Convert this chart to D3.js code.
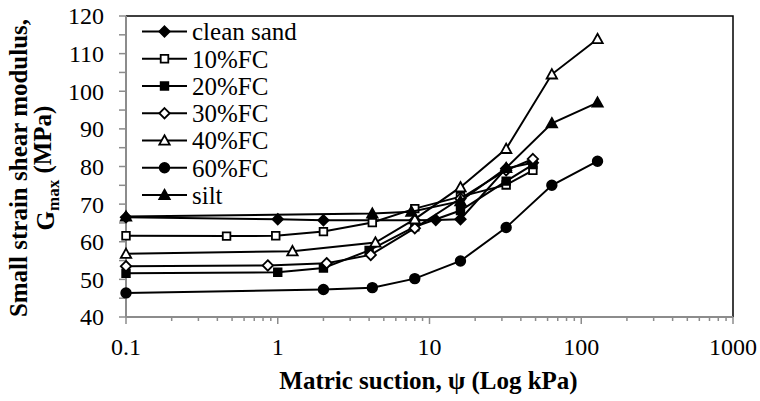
<!DOCTYPE html>
<html><head><meta charset="utf-8">
<script src="https://cdn.jsdelivr.net/npm/d3@7"></script>
<style>body{margin:0;background:#fff}svg{display:block}</style>
</head><body>
<svg id="c" width="760" height="401"></svg>
<script>
const seriesNames = ["clean sand","10%FC","20%FC","30%FC","40%FC","60%FC","silt"];
const cleanSand = [[0.1,66.5],[1,66.0],[2,65.7],[8,65.7],[11,65.8],[16,66.0],[32,79.5],[48,81.0]];
const fc10 = [[0.1,61.6],[0.46,61.5],[0.97,61.6],[2,62.7],[4.2,65.1],[8,68.8],[16,72.0],[32,75.1],[48,79.0]];
const fc20 = [[0.1,51.6],[1,51.9],[2,53.0],[4,57.7],[8,64.0],[16,68.3],[32,76.1],[48,80.5]];
const fc30 = [[0.1,53.5],[0.86,53.7],[2.1,54.3],[4.1,56.5],[8,63.6],[16,71.5],[32,79.0],[48,82.0]];
const fc40 = [[0.1,56.8],[1.25,57.5],[4.4,59.8],[8,66.0],[16,74.5],[32,84.7],[64,104.5],[128,113.9]];
const fc60 = [[0.1,46.4],[2,47.3],[4.2,47.8],[8,50.2],[16,54.9],[32,63.8],[64,75.0],[128,81.4]];
const silt = [[0.1,66.7],[4.2,67.5],[7.6,68.0],[16,70.8],[32,79.6],[64,91.5],[128,97.0]];
const seriesData = [cleanSand,fc10,fc20,fc30,fc40,fc60,silt];
const markerTypes = ["diamond","square","square","diamond","triangle","circle","triangle"];
const markerFilled = [true,false,true,false,false,true,true];
const yTicks = [40,50,60,70,80,90,100,110,120];
const xTicks = [0.1,1,10,100,1000];

const svg = d3.select("#c");
const L=126,R=733,T=16,B=317;
const x = d3.scaleLog().domain([0.1,1000]).range([L,R]);
const y = d3.scaleLinear().domain([40,120]).range([B,T]);
const font = "'Liberation Serif','Times New Roman',serif";
const axisGray = "#8c8c8c";

// border top/right
svg.append("path").attr("d",`M${L},${T}H${R}V${B}`).attr("fill","none").attr("stroke","#000").attr("stroke-width",1.5);

// y axis
const yMinor = d3.range(40,121,5);
const ya = svg.append("g");
ya.append("line").attr("x1",L).attr("x2",L).attr("y1",T).attr("y2",B).attr("stroke",axisGray).attr("stroke-width",2);
ya.selectAll("line.t").data(yMinor).join("line").attr("class","t")
  .attr("x1",L-7).attr("x2",L).attr("y1",d=>y(d)).attr("y2",d=>y(d)).attr("stroke",axisGray).attr("stroke-width",1.5);
ya.selectAll("text").data(yTicks).join("text")
  .attr("x",L-22).attr("y",d=>y(d)).attr("dy","0.35em").attr("text-anchor","end")
  .attr("font-family",font).attr("font-size",24).text(d=>d);

// x axis
const xa = svg.append("g");
xa.append("line").attr("x1",L).attr("x2",R).attr("y1",B).attr("y2",B).attr("stroke",axisGray).attr("stroke-width",2);
const minor = [];
[0.1,1,10,100].forEach(dec=>{for(let k=2;k<=9;k++) minor.push(dec*k);});
xa.selectAll("line.mn").data(minor).join("line").attr("class","mn")
  .attr("x1",d=>x(d)).attr("x2",d=>x(d)).attr("y1",B).attr("y2",B+4).attr("stroke",axisGray).attr("stroke-width",1.5);
xa.selectAll("line.mj").data(xTicks).join("line").attr("class","mj")
  .attr("x1",d=>x(d)).attr("x2",d=>x(d)).attr("y1",B).attr("y2",B+7).attr("stroke",axisGray).attr("stroke-width",1.5);
xa.selectAll("text").data(xTicks).join("text")
  .attr("x",d=>x(d)).attr("y",B+30).attr("dy","0.35em").attr("text-anchor","middle")
  .attr("font-family",font).attr("font-size",24).text(d=>d);

// axis titles
svg.append("text").attr("x",(L+R)/2-1).attr("y",380).attr("dy","0.35em").attr("text-anchor","middle")
  .attr("font-family",font).attr("font-size",25).attr("font-weight","bold").text("Matric suction, ψ (Log kPa)");
const yl = svg.append("g").attr("transform","translate(0,168) rotate(-90)");
yl.append("text").attr("x",0).attr("y",18).attr("dy","0.35em").attr("text-anchor","middle")
  .attr("font-family",font).attr("font-size",25).attr("font-weight","bold").text("Small strain shear modulus,");
const t2 = yl.append("text").attr("x",0).attr("y",45).attr("dy","0.35em").attr("text-anchor","middle")
  .attr("font-family",font).attr("font-size",25).attr("font-weight","bold");
t2.append("tspan").text("G");
t2.append("tspan").attr("font-size",17).attr("dy","0.3em").text("max");
t2.append("tspan").attr("dy","-0.3em").text(" (MPa)");

// Excel-like symbols (size = half-width in px)
const symDefs = {
  diamond:{draw(c,s){c.moveTo(0,-s);c.lineTo(s,0);c.lineTo(0,s);c.lineTo(-s,0);c.closePath();}},
  square:{draw(c,s){c.rect(-s,-s,2*s,2*s);}},
  circle:{draw(c,s){c.moveTo(s,0);c.arc(0,0,s,0,2*Math.PI);}},
  triangle:{draw(c,s){c.moveTo(0,-s);c.lineTo(s,s*0.8);c.lineTo(-s,s*0.8);c.closePath();}}
};
const symHalf = {diamond:5.2, square:3.8, circle:4.8, triangle:5.2};
function drawMarker(g,i,px,py){
  const t = markerTypes[i];
  g.append("path").attr("d",d3.symbol().type(symDefs[t]).size(symHalf[t])())
    .attr("transform",`translate(${px},${py})`)
    .attr("fill",markerFilled[i]?"#000":"#fff").attr("stroke","#000").attr("stroke-width",1.8)
    .attr("stroke-linejoin","miter");
}

const line = d3.line().x(d=>x(d[0])).y(d=>y(d[1]));
seriesData.forEach((data,i)=>{
  const g = svg.append("g");
  g.append("path").datum(data).attr("d",line).attr("fill","none").attr("stroke","#000").attr("stroke-width",2);
  data.forEach(d=>drawMarker(g,i,x(d[0]),y(d[1])));
});

// legend
const lg = svg.append("g");
seriesNames.forEach((name,i)=>{
  const ly = 31.5 + i*27.25;
  lg.append("line").attr("x1",142).attr("x2",187).attr("y1",ly).attr("y2",ly).attr("stroke","#000").attr("stroke-width",2);
  drawMarker(lg,i,164.5,ly);
  lg.append("text").attr("x",192).attr("y",ly).attr("dy","0.35em").attr("font-family",font).attr("font-size",25).text(name);
});
</script>
</body></html>
